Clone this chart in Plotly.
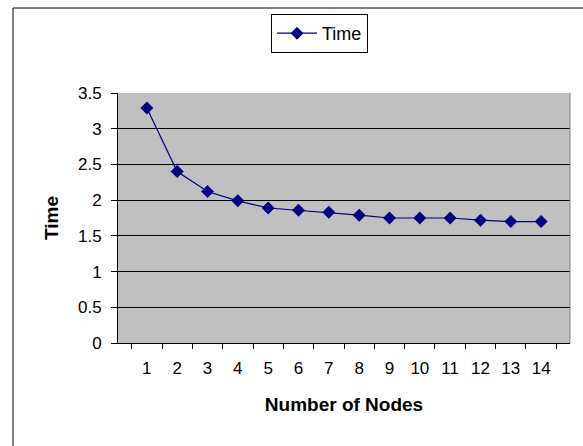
import plotly.graph_objects as go

nodes = [str(i) for i in range(1, 15)]
times = [3.29, 2.40, 2.12, 1.99, 1.89, 1.86, 1.83, 1.79, 1.75, 1.75, 1.75, 1.72, 1.70, 1.70]
y_ticks = [0, 0.5, 1, 1.5, 2, 2.5, 3, 3.5]
y_tick_labels = ["0", "0.5", "1", "1.5", "2", "2.5", "3", "3.5"]

W, H = 583, 446
L, R, T, B = 118, 13, 93, 103
pw, ph = W - L - R, H - T - B

def px_x(x):
    return (x - L) / pw

def px_y(y):
    return (H - B - y) / ph

fig = go.Figure()
fig.add_trace(go.Scatter(
    x=nodes, y=times, mode="lines+markers", name="Time",
    line=dict(color="#000080", width=1.2),
    marker=dict(symbol="diamond", size=10, color="#000080"),
))

font = "Liberation Sans, Arial, sans-serif"
fig.update_layout(
    width=W, height=H,
    margin=dict(l=L, r=R, t=T, b=B, autoexpand=False),
    paper_bgcolor="white",
    plot_bgcolor="#c0c0c0",
    font=dict(family=font, size=17, color="black"),
    showlegend=True,
    legend=dict(
        x=px_x(271), y=px_y(14), xanchor="left", yanchor="top",
        bordercolor="black", borderwidth=1, bgcolor="white",
        font=dict(size=18), itemwidth=40, tracegroupgap=0,
        entrywidth=70, entrywidthmode="pixels",
    ),
    xaxis=dict(
        type="category", tickson="boundaries", ticks="outside", ticklen=5,
        tickcolor="black", showline=True, linecolor="black", linewidth=1,
        showgrid=False, mirror=False, ticklabelstandoff=10,
        title=dict(text="<b>Number of Nodes</b>", font=dict(size=19), standoff=20),
        tickfont=dict(size=17),
    ),
    yaxis=dict(
        range=[0, 3.5], tickvals=y_ticks, ticktext=y_tick_labels,
        ticks="outside", ticklen=6, tickcolor="black",
        showline=True, linecolor="black", linewidth=1,
        showgrid=True, gridcolor="black", gridwidth=1,
        zeroline=False, ticklabelstandoff=6,
        title=dict(text="<b>Time</b>", font=dict(size=19), standoff=14),
        tickfont=dict(size=17),
    ),
    shapes=[
        dict(type="rect", xref="paper", yref="paper",
             x0=px_x(13), x1=px_x(595), y0=px_y(460), y1=px_y(8),
             line=dict(color="black", width=1), fillcolor="rgba(0,0,0,0)", layer="below"),
        dict(type="line", xref="paper", yref="paper",
             x0=1, x1=1, y0=0, y1=1, line=dict(color="#808080", width=1)),
    ],
)

fig.write_html("out.html", config={"displayModeBar": False},
               post_script="document.body.style.margin='0';")
